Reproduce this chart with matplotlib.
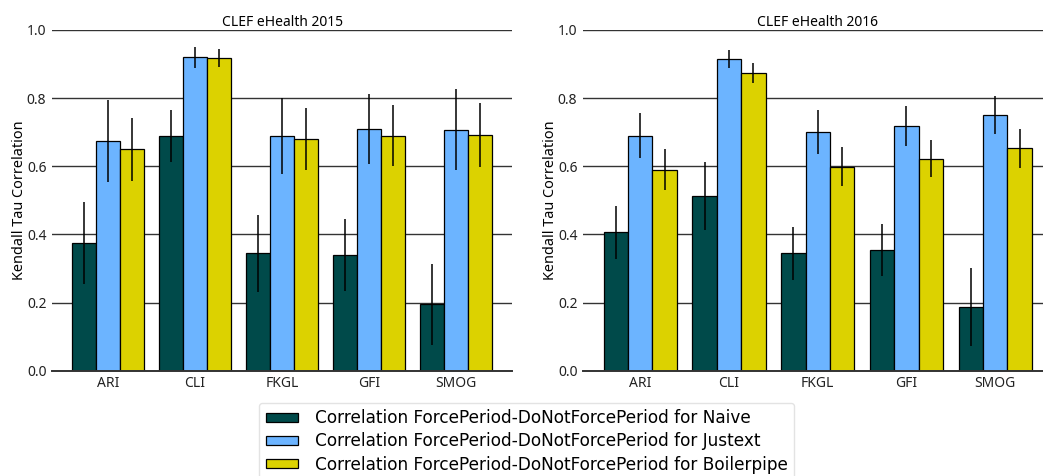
import matplotlib.pyplot as plt
import numpy as np

plt.rcParams['font.family'] = ['Noto Sans', 'DejaVu Sans']

metrics = ['ARI', 'CLI', 'FKGL', 'GFI', 'SMOG']
series_names = ['Correlation ForcePeriod-DoNotForcePeriod for Naive',
                'Correlation ForcePeriod-DoNotForcePeriod for Justext',
                'Correlation ForcePeriod-DoNotForcePeriod for Boilerpipe']
colors = ['#004a4a', '#6cb4ff', '#dcd200']

# CLEF eHealth 2015
naive_2015 = [0.374, 0.689, 0.344, 0.340, 0.195]
naive_2015_err = [0.121, 0.077, 0.114, 0.106, 0.119]
justext_2015 = [0.674, 0.920, 0.689, 0.710, 0.707]
justext_2015_err = [0.119, 0.031, 0.112, 0.103, 0.119]
boiler_2015 = [0.650, 0.917, 0.680, 0.690, 0.691]
boiler_2015_err = [0.092, 0.027, 0.091, 0.090, 0.094]

# CLEF eHealth 2016
naive_2016 = [0.406, 0.513, 0.344, 0.354, 0.187]
naive_2016_err = [0.077, 0.100, 0.079, 0.076, 0.115]
justext_2016 = [0.690, 0.915, 0.700, 0.719, 0.750]
justext_2016_err = [0.067, 0.026, 0.065, 0.059, 0.055]
boiler_2016 = [0.590, 0.874, 0.599, 0.622, 0.653]
boiler_2016_err = [0.060, 0.029, 0.057, 0.055, 0.057]

years = [
    ('CLEF eHealth 2015', [naive_2015, justext_2015, boiler_2015],
     [naive_2015_err, justext_2015_err, boiler_2015_err]),
    ('CLEF eHealth 2016', [naive_2016, justext_2016, boiler_2016],
     [naive_2016_err, justext_2016_err, boiler_2016_err]),
]

fig = plt.figure(figsize=(10.43, 4.76), dpi=100)
ax_left = fig.add_axes([0.0499, 0.2212, 0.441, 0.716])
ax_right = fig.add_axes([0.559, 0.2212, 0.450, 0.716])

x = np.arange(len(metrics))
width = 0.275

handles = []
for ax, (title, values, errors) in zip([ax_left, ax_right], years):
    for i, (vals, errs) in enumerate(zip(values, errors)):
        bars = ax.bar(x + (i - 1) * width, vals, width, color=colors[i],
                      edgecolor='black', linewidth=0.9, zorder=2,
                      label=series_names[i])
        ax.errorbar(x + (i - 1) * width, vals, yerr=errs, fmt='none',
                    ecolor='black', elinewidth=1.1, capsize=0, zorder=3)
        if ax is ax_left:
            handles.append(bars)
    ax.set_xlim(-0.644, 4.644)
    ax.set_ylim(0, 1.0)
    ax.set_xticks(x)
    ax.set_xticklabels(metrics)
    ax.set_yticks([0.0, 0.2, 0.4, 0.6, 0.8, 1.0])
    ax.set_yticklabels(['0.0', '0.2', '0.4', '0.6', '0.8', '1.0'])
    ax.tick_params(length=0, labelsize=10, pad=4, colors='#222222')
    ax.yaxis.grid(True, color='#333333', linewidth=1.0, zorder=1)
    ax.set_axisbelow(True)
    for side in ['left', 'right', 'top']:
        ax.spines[side].set_visible(False)
    ax.spines['bottom'].set_color('#333333')
    ax.spines['bottom'].set_linewidth(1.4)
    ax.set_ylabel('Kendall Tau Correlation', fontsize=10.4, labelpad=0)
    ax.set_title(title, fontsize=10, pad=3)

fig.legend(handles, series_names, loc='upper center',
           bbox_to_anchor=(0.505, 0.172), ncol=1, frameon=True,
           prop={'family': 'DejaVu Sans', 'size': 12.2},
           handlelength=1.9, handleheight=0.45, handletextpad=1.0,
           labelspacing=0.3, borderpad=0.4,
           edgecolor='#dddddd', fancybox=True)

fig.savefig('out.png', dpi=100)
